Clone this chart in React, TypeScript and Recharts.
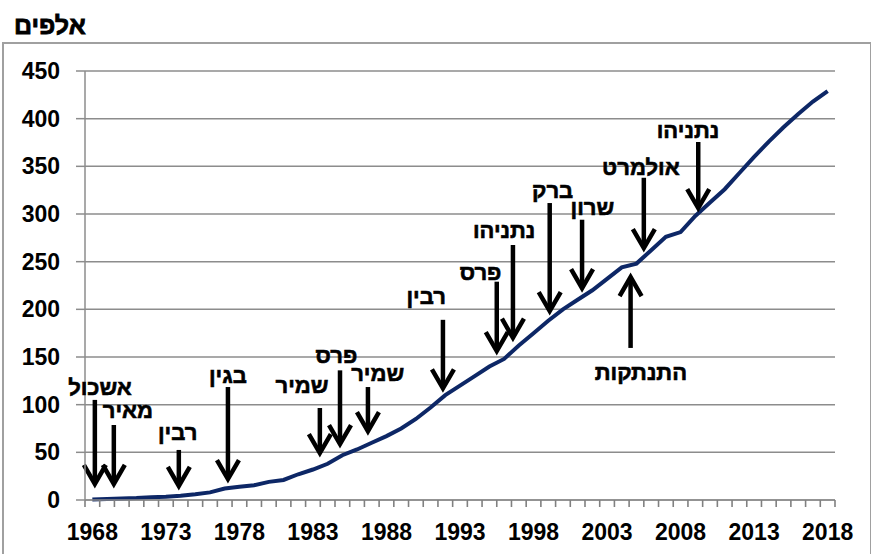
import { LineChart, Line, XAxis, YAxis, CartesianGrid, ReferenceLine, ReferenceDot } from "recharts";

// settlers, thousands
const YEARS = [
  1968, 1969, 1970, 1971, 1972, 1973, 1974, 1975, 1976, 1977, 1978, 1979, 1980,
  1981, 1982, 1983, 1984, 1985, 1986, 1987, 1988, 1989, 1990, 1991, 1992, 1993,
  1994, 1995, 1996, 1997, 1998, 1999, 2000, 2001, 2002, 2003, 2004, 2005, 2006,
  2007, 2008, 2009, 2010, 2011, 2012, 2013, 2014, 2015, 2016, 2017, 2018,
];
const SETTLERS = [
  0.5, 1, 1.5, 2, 3, 3.5, 4.5, 6, 8, 12, 14, 15.5, 19,
  21, 27, 32, 38, 47, 53, 60, 67, 75, 85, 97, 110, 120,
  130, 140, 148, 162, 175, 188, 200, 210, 220, 232, 244, 248, 262,
  276, 281, 298, 312, 326, 343, 360, 376, 391, 405, 418, 429,
];

const YEAR_LABELS = [1968, 1973, 1978, 1983, 1988, 1993, 1998, 2003, 2008, 2013, 2018];
const VALUE_TICKS = [0, 50, 100, 150, 200, 250, 300, 350, 400, 450];

// arrows: name, year, tip value, tail value
const ARROW_NAMES = [
  "אשכול", "מאיר", "רבין", "בגין", "שמיר", "פרס", "שמיר", "רבין",
  "פרס", "נתניהו", "ברק", "שרון", "אולמרט", "נתניהו", "התנתקות",
];
const ARROW_YEARS = [
  1968.17, 1969.46, 1973.88, 1977.22, 1983.47, 1984.84, 1986.74, 1991.84,
  1995.5, 1996.6, 1999.1, 2001.3, 2005.5, 2009.2, 2004.6,
];
const ARROW_TIPS = [12.6, 12.6, 10.5, 17.8, 45, 54.5, 68, 113, 152, 166, 194, 218, 260, 302, 238];
const ARROW_TAILS = [105, 78.7, 52.5, 118.5, 96.5, 136, 118.5, 189, 229, 267.5, 311.5, 294, 338, 375.5, 159.5];
// label anchors (year, value)
const NAME_YEARS = [
  1968.52, 1970.42, 1973.8, 1977.22, 1982.26, 1984.6, 1987.4, 1990.7,
  1994.4, 1996.0, 1999.3, 2002.0, 2005.3, 2008.5, 2005.3,
];
const NAME_VALUES = [118.5, 94.4, 71.3, 131, 120.6, 152, 133, 213, 239, 283, 325, 307, 349, 388, 134];

// tick marks sit between the years
const MINOR_TICKS = Array.from({ length: 52 }, (_, i) => 1967.5 + i);

const data = YEARS.map((year, i) => ({ year, value: SETTLERS[i] }));

const FONT = "'Liberation Sans', Arial, sans-serif";
const GRID = "#8c8c8c";

const Arrow = (props: any) => {
  const { x1, y1, x2, y2 } = props;
  const dir = y2 > y1 ? 1 : -1;
  const tip = y2 - dir * 4;
  return (
    <g>
      <line x1={x1} y1={y1} x2={x2} y2={tip - dir * 2} stroke="#000" strokeWidth={4.5} />
      <polyline
        points={`${x2 - 11},${tip - dir * 19} ${x2},${tip} ${x2 + 11},${tip - dir * 19}`}
        fill="none"
        stroke="#000"
        strokeWidth={4.5}
        strokeLinejoin="miter"
      />
    </g>
  );
};

export default function App() {
  return (
    <div style={{ position: "absolute", left: 0, top: 0, width: 871, height: 554, overflow: "hidden", background: "#fff" }}>
      <div
        style={{
          position: "absolute",
          left: 2,
          top: 42,
          width: 866,
          height: 560,
          border: "2px solid #a0a0a0",
        }}
      />
      <div
        style={{
          position: "absolute",
          left: 14,
          top: 11,
          fontFamily: FONT,
          fontWeight: "bold",
          fontSize: 25,
          direction: "rtl",
          lineHeight: "28px",
          WebkitTextStroke: "0.8px #000",
        }}
      >
        אלפים
      </div>
      <div style={{ position: "absolute", left: 0, top: 0 }}>
        <LineChart width={871} height={554} data={data} margin={{ top: 71, right: 36, bottom: 0, left: 0 }}>
          <CartesianGrid vertical={false} stroke={GRID} strokeWidth={1.5} />
          <XAxis
            dataKey="year"
            type="number"
            domain={[1967.5, 2018.5]}
            ticks={MINOR_TICKS}
            tickFormatter={() => ""}
            interval={0}
            tickSize={7}
            tickLine={{ stroke: "#808080", strokeWidth: 1.6 }}
            height={54}
            stroke={GRID}
            strokeWidth={1.5}
          />
          <YAxis
            domain={[0, 450]}
            ticks={VALUE_TICKS}
            interval={0}
            width={85}
            tickSize={9}
            tickMargin={16}
            stroke={GRID}
            strokeWidth={1.5}
            tick={{ fill: "#000", fontSize: 23, fontWeight: "bold", fontFamily: FONT }}
          />
          <Line
            dataKey="value"
            stroke="#0d2766"
            strokeWidth={4}
            dot={false}
            isAnimationActive={false}
          />
          {YEAR_LABELS.map((year) => (
            <ReferenceDot
              key={"y" + year}
              x={year}
              y={0}
              r={0}
              ifOverflow="visible"
              shape={(p: any) => (
                <text
                  x={p.cx}
                  y={p.cy + 24}
                  dy="0.71em"
                  textAnchor="middle"
                  fontFamily={FONT}
                  fontWeight="bold"
                  fontSize={23}
                  fill="#000"
                >
                  {year}
                </text>
              )}
            />
          ))}
          {ARROW_NAMES.map((name, i) => (
            <ReferenceLine
              key={"a" + i}
              segment={[
                { x: ARROW_YEARS[i], y: ARROW_TAILS[i] },
                { x: ARROW_YEARS[i], y: ARROW_TIPS[i] },
              ]}
              shape={Arrow}
            />
          ))}
          {ARROW_NAMES.map((name, i) => (
            <ReferenceDot
              key={"n" + i}
              x={NAME_YEARS[i]}
              y={NAME_VALUES[i]}
              r={0}
              shape={(p: any) => (
                <text
                  x={p.cx}
                  y={p.cy}
                  textAnchor="middle"
                  dominantBaseline="central"
                  fontFamily={FONT}
                  fontWeight="bold"
                  fontSize={22}
                  fill="#000"
                  stroke="#000"
                  strokeWidth={0.6}
                >
                  {name}
                </text>
              )}
            />
          ))}
        </LineChart>
      </div>
    </div>
  );
}
